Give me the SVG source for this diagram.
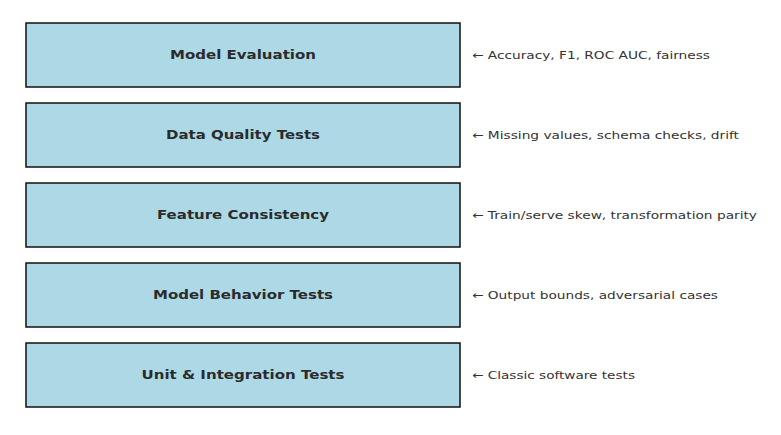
<svg xmlns="http://www.w3.org/2000/svg" width="781" height="435" viewBox="0 0 781 435">
<style>
.box{fill:#add8e6;stroke:#111;stroke-width:1.5}
.t{font-family:"DejaVu Sans",sans-serif;font-weight:bold;font-size:12px;fill:#2b2b2b;text-anchor:middle}
.n{font-family:"DejaVu Sans",sans-serif;font-size:11px;fill:#333}
</style>
<rect width="781" height="435" fill="#fff"/>
<g id="model-evaluation"><rect class="box" x="26" y="23" width="434" height="64"/><text class="t" x="243" y="58.5" textLength="146" lengthAdjust="spacingAndGlyphs">Model Evaluation</text><text class="n" x="472" y="59" textLength="238" lengthAdjust="spacingAndGlyphs">← Accuracy, F1, ROC AUC, fairness</text></g>
<g id="data-quality"><rect class="box" x="26" y="103" width="434" height="64"/><text class="t" x="243" y="138.5" textLength="154" lengthAdjust="spacingAndGlyphs">Data Quality Tests</text><text class="n" x="472" y="139" textLength="267" lengthAdjust="spacingAndGlyphs">← Missing values, schema checks, drift</text></g>
<g id="feature-consistency"><rect class="box" x="26" y="183" width="434" height="64"/><text class="t" x="243" y="218.5" textLength="172" lengthAdjust="spacingAndGlyphs">Feature Consistency</text><text class="n" x="472" y="219" textLength="285" lengthAdjust="spacingAndGlyphs">← Train/serve skew, transformation parity</text></g>
<g id="model-behavior"><rect class="box" x="26" y="263" width="434" height="64"/><text class="t" x="243" y="298.5" textLength="180" lengthAdjust="spacingAndGlyphs">Model Behavior Tests</text><text class="n" x="472" y="299" textLength="246" lengthAdjust="spacingAndGlyphs">← Output bounds, adversarial cases</text></g>
<g id="unit-integration"><rect class="box" x="26" y="343" width="434" height="64"/><text class="t" x="243" y="378.5" textLength="203" lengthAdjust="spacingAndGlyphs">Unit &amp; Integration Tests</text><text class="n" x="472" y="379" textLength="163" lengthAdjust="spacingAndGlyphs">← Classic software tests</text></g>
<g id="connectors"></g>
</svg>
